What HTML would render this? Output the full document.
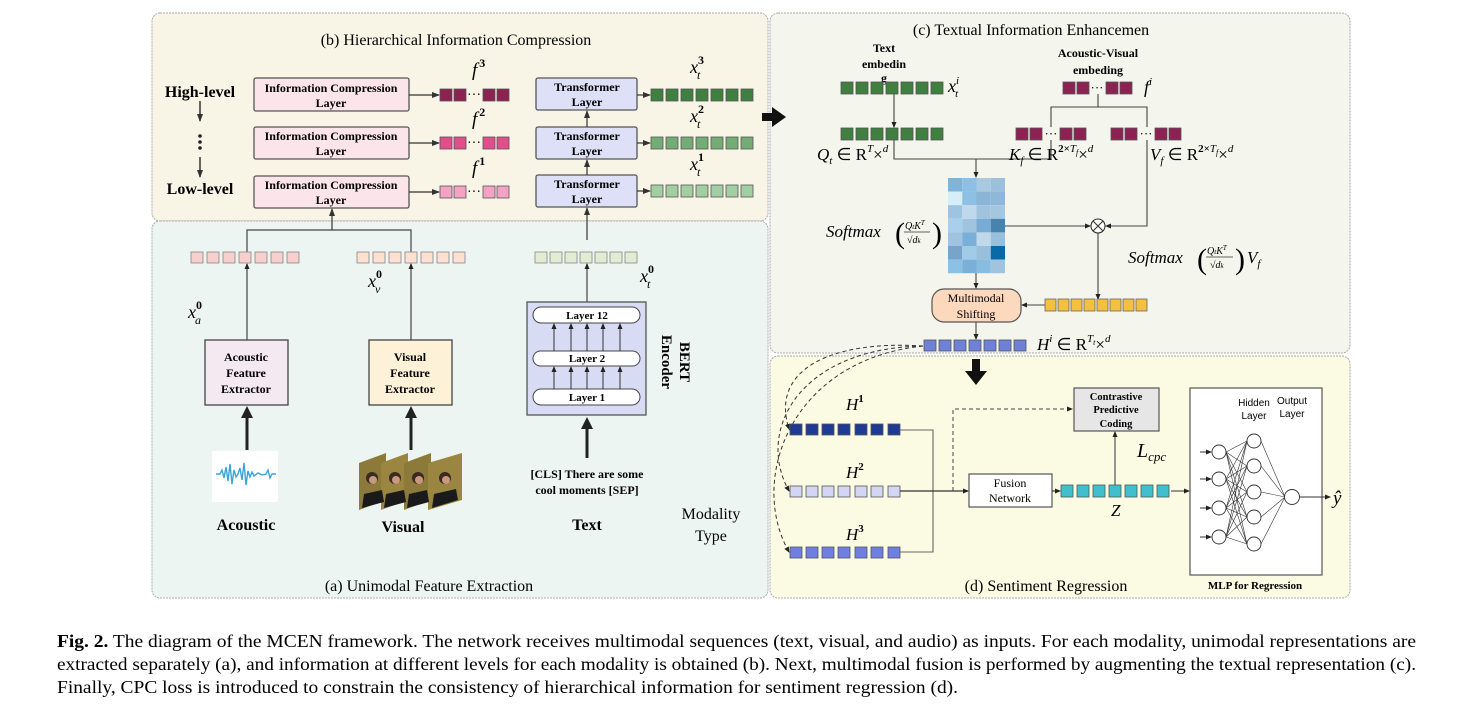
<!DOCTYPE html>
<html><head><meta charset="utf-8"><style>
html,body{margin:0;padding:0;background:#fff;}
svg{display:block;font-family:"Liberation Serif",serif;}
.b{font-weight:bold}
.m{font-style:italic}
</style></head><body>
<svg width="1474" height="716" viewBox="0 0 1474 716" xmlns="http://www.w3.org/2000/svg">
<defs>
<marker id="ar" markerWidth="8" markerHeight="8" refX="7" refY="4" orient="auto" markerUnits="userSpaceOnUse"><path d="M0,1 L8,4 L0,7 z" fill="#333"/></marker>
<marker id="ar2" markerWidth="6" markerHeight="6" refX="5" refY="3" orient="auto" markerUnits="userSpaceOnUse"><path d="M0,0.5 L6,3 L0,5.5 z" fill="#222"/></marker>
</defs>

<!-- panels -->
<rect x="152" y="13" width="616" height="208" rx="8" fill="#f8f4e6" stroke="#aaa" stroke-dasharray="2,1"/>
<rect x="152" y="221" width="616" height="377" rx="8" fill="#edf5f2" stroke="#aaa" stroke-dasharray="2,1"/>
<rect x="770" y="13" width="580" height="340" rx="8" fill="#f4f5ec" stroke="#aaa" stroke-dasharray="2,1"/>
<rect x="770" y="356" width="580" height="242" rx="8" fill="#fbfae2" stroke="#aaa" stroke-dasharray="2,1"/>

<!-- (b) -->
<text x="456" y="45" font-size="16" text-anchor="middle">(b) Hierarchical Information Compression</text>
<text x="200" y="97" font-size="16" class="b" text-anchor="middle">High-level</text>
<line x1="200" y1="101" x2="200" y2="121" stroke="#333" stroke-width="1.5" marker-end="url(#ar)"/>
<circle cx="200" cy="136" r="1.8" fill="#222"/><circle cx="200" cy="142" r="1.8" fill="#222"/><circle cx="200" cy="148" r="1.8" fill="#222"/>
<line x1="200" y1="157" x2="200" y2="177" stroke="#333" stroke-width="1.5" marker-end="url(#ar)"/>
<text x="200" y="194" font-size="16" class="b" text-anchor="middle">Low-level</text>

<g stroke="#555" stroke-width="1.3" fill="#fbe4ea">
<rect x="254" y="78" width="155" height="33" rx="2"/>
<rect x="254" y="127" width="155" height="32" rx="2"/>
<rect x="254" y="176" width="155" height="32" rx="2"/>
</g>
<g font-size="12" class="b" text-anchor="middle">
<text x="331" y="92">Information Compression</text><text x="331" y="107">Layer</text>
<text x="331" y="140">Information Compression</text><text x="331" y="155">Layer</text>
<text x="331" y="189">Information Compression</text><text x="331" y="204">Layer</text>
</g>
<g stroke="#333" stroke-width="1.2" marker-end="url(#ar)">
<line x1="409" y1="95" x2="439" y2="95"/><line x1="409" y1="143" x2="439" y2="143"/><line x1="409" y1="192" x2="439" y2="192"/>
</g>
<g stroke="#555" stroke-width="0.8">
<g fill="#8b2252"><rect x="440" y="89" width="12" height="12"/><rect x="454" y="89" width="12" height="12"/><rect x="483" y="89" width="12" height="12"/><rect x="497" y="89" width="12" height="12"/></g>
<g fill="#e24d8c"><rect x="440" y="137" width="12" height="12"/><rect x="454" y="137" width="12" height="12"/><rect x="483" y="137" width="12" height="12"/><rect x="497" y="137" width="12" height="12"/></g>
<g fill="#f4a3c4"><rect x="440" y="186" width="12" height="12"/><rect x="454" y="186" width="12" height="12"/><rect x="483" y="186" width="12" height="12"/><rect x="497" y="186" width="12" height="12"/></g>
</g>
<g font-size="14" text-anchor="middle"><text x="474" y="99">···</text><text x="474" y="147">···</text><text x="474" y="196">···</text></g>
<g font-size="19" class="m"><text x="472" y="76">f<tspan font-size="12" dx="2" dy="-9" font-style="normal" font-weight="bold">3</tspan></text>
<text x="472" y="125">f<tspan font-size="12" dx="2" dy="-9" font-style="normal" font-weight="bold">2</tspan></text>
<text x="472" y="174">f<tspan font-size="12" dx="2" dy="-9" font-style="normal" font-weight="bold">1</tspan></text></g>

<g stroke="#555" stroke-width="1.3" fill="#dde0f6">
<rect x="536" y="78" width="101" height="32" rx="2"/>
<rect x="536" y="127" width="101" height="32" rx="2"/>
<rect x="536" y="175" width="101" height="32" rx="2"/>
</g>
<g font-size="12" class="b" text-anchor="middle">
<text x="587" y="91">Transformer</text><text x="587" y="106">Layer</text>
<text x="587" y="140">Transformer</text><text x="587" y="155">Layer</text>
<text x="587" y="188">Transformer</text><text x="587" y="203">Layer</text>
</g>
<g stroke="#333" stroke-width="1.2" marker-end="url(#ar)">
<line x1="587" y1="127" x2="587" y2="111"/><line x1="587" y1="175" x2="587" y2="160"/><line x1="587" y1="240" x2="587" y2="208"/>
<line x1="332" y1="230" x2="332" y2="209"/>
<line x1="637" y1="95" x2="650" y2="95"/><line x1="637" y1="143" x2="650" y2="143"/><line x1="637" y1="191" x2="650" y2="191"/>
</g>
<g stroke="#555" stroke-width="0.8">
<g fill="#3f7f3f"><rect x="651" y="89" width="12" height="12"/><rect x="666" y="89" width="12" height="12"/><rect x="681" y="89" width="12" height="12"/><rect x="696" y="89" width="12" height="12"/><rect x="711" y="89" width="12" height="12"/><rect x="726" y="89" width="12" height="12"/><rect x="741" y="89" width="12" height="12"/></g>
<g fill="#74ad74"><rect x="651" y="137" width="12" height="12"/><rect x="666" y="137" width="12" height="12"/><rect x="681" y="137" width="12" height="12"/><rect x="696" y="137" width="12" height="12"/><rect x="711" y="137" width="12" height="12"/><rect x="726" y="137" width="12" height="12"/><rect x="741" y="137" width="12" height="12"/></g>
<g fill="#a2cfa2"><rect x="651" y="185" width="12" height="12"/><rect x="666" y="185" width="12" height="12"/><rect x="681" y="185" width="12" height="12"/><rect x="696" y="185" width="12" height="12"/><rect x="711" y="185" width="12" height="12"/><rect x="726" y="185" width="12" height="12"/><rect x="741" y="185" width="12" height="12"/></g>
</g>
<g font-size="18" class="m"><text x="690" y="73">x<tspan font-size="12" dy="-9" font-style="normal" font-weight="bold">3</tspan><tspan font-size="12" dx="-7" dy="15">t</tspan></text>
<text x="690" y="122">x<tspan font-size="12" dy="-9" font-style="normal" font-weight="bold">2</tspan><tspan font-size="12" dx="-7" dy="15">t</tspan></text>
<text x="690" y="170">x<tspan font-size="12" dy="-9" font-style="normal" font-weight="bold">1</tspan><tspan font-size="12" dx="-7" dy="15">t</tspan></text></g>
<!-- big right arrow -->
<rect x="762" y="113" width="12" height="8" fill="#111"/><path d="M772,107 L786,117 L772,127 z" fill="#111"/>

<!-- (a) -->
<polyline points="247,252 247,230 411,230 411,252" fill="none" stroke="#444" stroke-width="1.2"/>
<g stroke="#888" stroke-width="0.8">
<g fill="#f8cfcf"><rect x="191" y="252" width="12" height="11"/><rect x="207" y="252" width="12" height="11"/><rect x="223" y="252" width="12" height="11"/><rect x="239" y="252" width="12" height="11"/><rect x="255" y="252" width="12" height="11"/><rect x="271" y="252" width="12" height="11"/><rect x="287" y="252" width="12" height="11"/></g>
<g fill="#fde0cf"><rect x="357" y="252" width="12" height="11"/><rect x="373" y="252" width="12" height="11"/><rect x="389" y="252" width="12" height="11"/><rect x="405" y="252" width="12" height="11"/><rect x="421" y="252" width="12" height="11"/><rect x="437" y="252" width="12" height="11"/><rect x="453" y="252" width="12" height="11"/></g>
<g fill="#e3ecd2"><rect x="535" y="252" width="12" height="11"/><rect x="550" y="252" width="12" height="11"/><rect x="565" y="252" width="12" height="11"/><rect x="580" y="252" width="12" height="11"/><rect x="595" y="252" width="12" height="11"/><rect x="610" y="252" width="12" height="11"/><rect x="625" y="252" width="12" height="11"/></g>
</g>
<g stroke="#444" stroke-width="1.2" marker-end="url(#ar2)">
<line x1="247" y1="340" x2="247" y2="264"/><line x1="411" y1="340" x2="411" y2="264"/><line x1="587" y1="302" x2="587" y2="264"/>
</g>
<g font-size="18" class="m"><text x="188" y="318">x<tspan font-size="12" dy="-9" font-style="normal" font-weight="bold">0</tspan><tspan font-size="12" dx="-7" dy="15">a</tspan></text>
<text x="368" y="287">x<tspan font-size="12" dy="-9" font-style="normal" font-weight="bold">0</tspan><tspan font-size="12" dx="-7" dy="15">v</tspan></text>
<text x="640" y="282">x<tspan font-size="12" dy="-9" font-style="normal" font-weight="bold">0</tspan><tspan font-size="12" dx="-7" dy="15">t</tspan></text></g>

<rect x="205" y="340" width="83" height="65" fill="#f4e8f1" stroke="#444" stroke-width="1.3"/>
<rect x="369" y="340" width="83" height="65" fill="#fdf1d8" stroke="#444" stroke-width="1.3"/>
<g font-size="12" class="b" text-anchor="middle">
<text x="246" y="361">Acoustic</text><text x="246" y="377">Feature</text><text x="246" y="393">Extractor</text>
<text x="410" y="361">Visual</text><text x="410" y="377">Feature</text><text x="410" y="393">Extractor</text>
</g>
<g stroke="#222" stroke-width="3">
<line x1="247" y1="450" x2="247" y2="416"/><line x1="411" y1="450" x2="411" y2="416"/><line x1="587" y1="458" x2="587" y2="428"/>
</g>
<g fill="#222"><path d="M241,418 L247,406 L253,418 z"/><path d="M405,418 L411,406 L417,418 z"/><path d="M581,429 L587,417 L593,429 z"/></g>

<rect x="527" y="302" width="119" height="113" fill="#d7dbf4" stroke="#555" stroke-width="1.3"/>
<g fill="#fff" stroke="#444" stroke-width="1"><rect x="533" y="307" width="107" height="16" rx="8"/><rect x="533" y="351" width="107" height="15" rx="7.5"/><rect x="533" y="389" width="107" height="16" rx="8"/></g>
<g font-size="11" class="b" text-anchor="middle"><text x="587" y="319">Layer 12</text><text x="587" y="362">Layer 2</text><text x="587" y="401">Layer 1</text></g>
<g stroke="#333" stroke-width="1" marker-end="url(#ar2)">
<line x1="554" y1="351" x2="554" y2="324"/><line x1="571" y1="351" x2="571" y2="324"/><line x1="587" y1="351" x2="587" y2="324"/><line x1="603" y1="351" x2="603" y2="324"/><line x1="620" y1="351" x2="620" y2="324"/>
<line x1="554" y1="389" x2="554" y2="367"/><line x1="571" y1="389" x2="571" y2="367"/><line x1="587" y1="389" x2="587" y2="367"/><line x1="603" y1="389" x2="603" y2="367"/><line x1="620" y1="389" x2="620" y2="367"/>
</g>
<g font-size="15" class="b" text-anchor="middle"><text transform="translate(680,362) rotate(90)">BERT</text><text transform="translate(662,362) rotate(90)">Encoder</text></g>

<!-- waveform -->
<rect x="212" y="451" width="66" height="51" fill="#fff"/>
<path d="M216,474 L220,474 L222,470 L224,478 L226,467 L228,481 L230,464 L232,484 L234,470 L236,477 L238,474 L240,468 L242,480 L244,463 L246,485 L248,471 L250,477 L252,472 L254,476 L258,473 L262,475 L266,474 L268,470 L270,478 L272,474 L276,474" fill="none" stroke="#3aa6d8" stroke-width="1.4"/>
<!-- photos -->
<g>
<polygon points="359,463 386,453 386,500 359,510" fill="#8c7a3a"/>
<polygon points="381,463 408,453 408,500 381,510" fill="#9a8640"/>
<polygon points="404,463 431,453 431,500 404,510" fill="#8c7a3a"/>
<polygon points="428,463 462,453 462,500 428,510" fill="#9a8640"/>
<g fill="#3a2a20"><circle cx="372" cy="478" r="6"/><circle cx="395" cy="478" r="6"/><circle cx="418" cy="478" r="6"/><circle cx="445" cy="478" r="6"/></g>
<g fill="#c89880"><circle cx="373" cy="480" r="4"/><circle cx="396" cy="480" r="4"/><circle cx="419" cy="480" r="4"/><circle cx="446" cy="480" r="4"/></g>
<g fill="#1a1a1a"><path d="M362,508 L364,494 L382,490 L384,502 z"/><path d="M384,508 L386,494 L404,490 L406,502 z"/><path d="M407,508 L409,494 L427,490 L429,502 z"/><path d="M432,508 L434,494 L456,489 L458,500 z"/></g>
</g>
<g font-size="12" class="b" text-anchor="middle"><text x="587" y="478">[CLS] There are some</text><text x="587" y="494">cool  moments [SEP]</text></g>
<g font-size="16" class="b" text-anchor="middle"><text x="246" y="530">Acoustic</text><text x="403" y="532">Visual</text><text x="587" y="530">Text</text></g>
<g font-size="16" text-anchor="middle"><text x="711" y="519">Modality</text><text x="711" y="541">Type</text></g>
<text x="429" y="591" font-size="16" text-anchor="middle">(a) Unimodal Feature Extraction</text>

<!-- (c) -->
<text x="1031" y="35" font-size="16" text-anchor="middle">(c) Textual Information Enhancemen</text>
<g font-size="12" class="b" text-anchor="middle"><text x="884" y="52">Text</text><text x="884" y="68">embedin</text><text x="884" y="82">g</text>
<text x="1098" y="57">Acoustic-Visual</text><text x="1098" y="74">embeding</text></g>
<g stroke="#555" stroke-width="0.8" fill="#3f7f3f">
<rect x="841" y="82" width="12" height="12"/><rect x="856" y="82" width="12" height="12"/><rect x="871" y="82" width="12" height="12"/><rect x="886" y="82" width="12" height="12"/><rect x="901" y="82" width="12" height="12"/><rect x="916" y="82" width="12" height="12"/><rect x="931" y="82" width="12" height="12"/>
<rect x="841" y="128" width="12" height="12"/><rect x="856" y="128" width="12" height="12"/><rect x="871" y="128" width="12" height="12"/><rect x="886" y="128" width="12" height="12"/><rect x="901" y="128" width="12" height="12"/><rect x="916" y="128" width="12" height="12"/><rect x="931" y="128" width="12" height="12"/>
</g>
<g stroke="#555" stroke-width="0.8" fill="#8b2252">
<rect x="1063" y="82" width="12" height="12"/><rect x="1077" y="82" width="12" height="12"/><rect x="1106" y="82" width="12" height="12"/><rect x="1120" y="82" width="12" height="12"/>
<rect x="1016" y="128" width="12" height="12"/><rect x="1030" y="128" width="12" height="12"/><rect x="1060" y="128" width="12" height="12"/><rect x="1074" y="128" width="12" height="12"/>
<rect x="1111" y="128" width="12" height="12"/><rect x="1125" y="128" width="12" height="12"/><rect x="1155" y="128" width="12" height="12"/><rect x="1169" y="128" width="12" height="12"/>
</g>
<g font-size="13" text-anchor="middle"><text x="1097" y="92">···</text><text x="1051" y="138">···</text><text x="1146" y="138">···</text></g>
<g font-size="18" class="m"><text x="948" y="92">x<tspan font-size="11" dy="-8">i</tspan><tspan font-size="11" dx="-4" dy="13">t</tspan></text>
<text x="1144" y="93">f<tspan font-size="11" dy="-8">i</tspan></text></g>
<g stroke="#444" stroke-width="1.1" fill="none">
<line x1="894" y1="94" x2="894" y2="127" marker-end="url(#ar2)"/>
<polyline points="1098,94 1098,107"/><polyline points="1051,127 1051,107 1147,107 1147,127"/>
<polyline points="894,140 894,159 1051,159 1051,140"/>
<line x1="976" y1="159" x2="976" y2="177" marker-end="url(#ar2)"/>
<line x1="1005" y1="226" x2="1090" y2="226" marker-end="url(#ar2)"/>
<polyline points="1147,140 1147,226 1106,226" marker-end="url(#ar2)"/>
<line x1="1098" y1="233" x2="1098" y2="299" marker-end="url(#ar2)"/>
<line x1="976" y1="273" x2="976" y2="288" marker-end="url(#ar2)"/>
<line x1="1045" y1="305" x2="1022" y2="305" marker-end="url(#ar2)"/>
<line x1="976" y1="322" x2="976" y2="339" marker-end="url(#ar2)"/>
</g>
<g font-size="17" class="m">
<text x="817" y="160">Q<tspan font-size="11" dy="4">t</tspan><tspan dy="-4" font-style="normal"> ∈ R</tspan><tspan font-size="11" dy="-8">T</tspan><tspan dy="8" font-style="normal">×</tspan><tspan font-size="11" dy="-8">d</tspan></text>
<text x="1009" y="160">K<tspan font-size="11" dy="4">f</tspan><tspan dy="-4" font-style="normal"> ∈ R</tspan><tspan font-size="11" dy="-8" font-style="normal" font-weight="bold">2×</tspan><tspan font-size="11">T</tspan><tspan font-size="8" dy="3">f</tspan><tspan dy="5" font-style="normal">×</tspan><tspan font-size="11" dy="-8">d</tspan></text>
<text x="1150" y="160">V<tspan font-size="11" dy="4">f</tspan><tspan dy="-4" font-style="normal"> ∈ R</tspan><tspan font-size="11" dy="-8" font-style="normal" font-weight="bold">2×</tspan><tspan font-size="11">T</tspan><tspan font-size="8" dy="3">f</tspan><tspan dy="5" font-style="normal">×</tspan><tspan font-size="11" dy="-8">d</tspan></text>
</g>
<!-- heatmap -->
<g>
<rect x="948" y="178" width="14.25" height="13.6" fill="#7fb3d8"/><rect x="962.25" y="178" width="14.25" height="13.6" fill="#8cc0e4"/><rect x="976.5" y="178" width="14.25" height="13.6" fill="#a9c9e0"/><rect x="990.75" y="178" width="14.25" height="13.6" fill="#9cc0dc"/>
<rect x="948" y="191.6" width="14.25" height="13.6" fill="#d6eef8"/><rect x="962.25" y="191.6" width="14.25" height="13.6" fill="#8dc0e2"/><rect x="976.5" y="191.6" width="14.25" height="13.6" fill="#8ab5d6"/><rect x="990.75" y="191.6" width="14.25" height="13.6" fill="#8fb8d8"/>
<rect x="948" y="205.2" width="14.25" height="13.6" fill="#9dc4e0"/><rect x="962.25" y="205.2" width="14.25" height="13.6" fill="#c0d8ec"/><rect x="976.5" y="205.2" width="14.25" height="13.6" fill="#a0c4e0"/><rect x="990.75" y="205.2" width="14.25" height="13.6" fill="#a4c6e0"/>
<rect x="948" y="218.8" width="14.25" height="13.6" fill="#a8d0ec"/><rect x="962.25" y="218.8" width="14.25" height="13.6" fill="#a0c4e0"/><rect x="976.5" y="218.8" width="14.25" height="13.6" fill="#78acd4"/><rect x="990.75" y="218.8" width="14.25" height="13.6" fill="#4a82ae"/>
<rect x="948" y="232.4" width="14.25" height="13.6" fill="#a0c4e0"/><rect x="962.25" y="232.4" width="14.25" height="13.6" fill="#7ab0d8"/><rect x="976.5" y="232.4" width="14.25" height="13.6" fill="#c0d8ec"/><rect x="990.75" y="232.4" width="14.25" height="13.6" fill="#98c0dc"/>
<rect x="948" y="246" width="14.25" height="13.6" fill="#78a4cc"/><rect x="962.25" y="246" width="14.25" height="13.6" fill="#a0cce8"/><rect x="976.5" y="246" width="14.25" height="13.6" fill="#98c0dc"/><rect x="990.75" y="246" width="14.25" height="13.6" fill="#0a6aa8"/>
<rect x="948" y="259.6" width="14.25" height="13.6" fill="#8cc0e4"/><rect x="962.25" y="259.6" width="14.25" height="13.6" fill="#7ab0d8"/><rect x="976.5" y="259.6" width="14.25" height="13.6" fill="#88bce0"/><rect x="990.75" y="259.6" width="14.25" height="13.6" fill="#a0c4e0"/>
</g>
<g font-size="17" class="m">
<text x="826" y="237">Softmax</text>
<text x="895" y="243" font-size="30" font-style="normal" font-weight="normal">(</text>
<text x="905" y="229" font-size="10">Q<tspan font-size="7">t</tspan>K<tspan font-size="7" dy="-4">T</tspan></text>
<line x1="904" y1="232" x2="930" y2="232" stroke="#333" stroke-width="0.8"/>
<text x="907" y="243" font-size="10"><tspan font-style="normal">√</tspan>d<tspan font-size="7">k</tspan></text>
<text x="932" y="243" font-size="30" font-style="normal" font-weight="normal">)</text>
<text x="1128" y="263">Softmax</text>
<text x="1197" y="269" font-size="30" font-style="normal">(</text>
<text x="1207" y="254" font-size="10">Q<tspan font-size="7">t</tspan>K<tspan font-size="7" dy="-4">T</tspan></text>
<line x1="1206" y1="257" x2="1233" y2="257" stroke="#333" stroke-width="0.8"/>
<text x="1210" y="268" font-size="10"><tspan font-style="normal">√</tspan>d<tspan font-size="7">k</tspan></text>
<text x="1235" y="269" font-size="30" font-style="normal">)</text>
<text x="1247" y="263">V<tspan font-size="11" dy="4">f</tspan></text>
</g>
<circle cx="1098" cy="226" r="7" fill="#fff" stroke="#333" stroke-width="1.1"/>
<path d="M1093,221 L1103,231 M1103,221 L1093,231" stroke="#333" stroke-width="1.1"/>
<g stroke="#666" stroke-width="0.8" fill="#f5bf3f">
<rect x="1045" y="299" width="11" height="12"/><rect x="1058" y="299" width="11" height="12"/><rect x="1071" y="299" width="11" height="12"/><rect x="1084" y="299" width="11" height="12"/><rect x="1097" y="299" width="11" height="12"/><rect x="1110" y="299" width="11" height="12"/><rect x="1123" y="299" width="11" height="12"/><rect x="1136" y="299" width="11" height="12"/>
</g>
<rect x="932" y="289" width="89" height="33" rx="12" fill="#fcd8bd" stroke="#555" stroke-width="1.2"/>
<g font-size="12" text-anchor="middle"><text x="976" y="302">Multimodal</text><text x="976" y="318">Shifting</text></g>
<g stroke="#555" stroke-width="0.8" fill="#6e80d8">
<rect x="924" y="340" width="12" height="11"/><rect x="939" y="340" width="12" height="11"/><rect x="954" y="340" width="12" height="11"/><rect x="969" y="340" width="12" height="11"/><rect x="984" y="340" width="12" height="11"/><rect x="999" y="340" width="12" height="11"/><rect x="1014" y="340" width="12" height="11"/>
</g>
<text x="1037" y="350" font-size="17" class="m">H<tspan font-size="11" dy="-8">i</tspan><tspan dy="8" font-style="normal"> ∈ R</tspan><tspan font-size="11" dy="-8">T</tspan><tspan font-size="8" dy="3">t</tspan><tspan dy="5" font-style="normal">×</tspan><tspan font-size="11" dy="-8">d</tspan></text>

<!-- big down arrow -->
<rect x="972" y="359" width="8" height="14" fill="#111"/><path d="M965,371 L976,385 L987,371 z" fill="#111"/>

<!-- (d) -->
<g fill="none" stroke="#333" stroke-width="1" stroke-dasharray="4,3">
<path d="M923,346 C 830,340 770,370 789,429" marker-end="url(#ar2)"/>
<path d="M923,346 C 800,348 755,430 789,491" marker-end="url(#ar2)"/>
<path d="M923,346 C 790,360 748,480 789,552" marker-end="url(#ar2)"/>
</g>
<g stroke="#555" stroke-width="0.8">
<g fill="#1f3a93"><rect x="790" y="424" width="12" height="11"/><rect x="806" y="424" width="12" height="11"/><rect x="822" y="424" width="12" height="11"/><rect x="838" y="424" width="12" height="11"/><rect x="855" y="424" width="12" height="11"/><rect x="871" y="424" width="12" height="11"/><rect x="888" y="424" width="12" height="11"/></g>
<g fill="#d3d5f4"><rect x="790" y="486" width="12" height="11"/><rect x="806" y="486" width="12" height="11"/><rect x="822" y="486" width="12" height="11"/><rect x="838" y="486" width="12" height="11"/><rect x="855" y="486" width="12" height="11"/><rect x="871" y="486" width="12" height="11"/><rect x="888" y="486" width="12" height="11"/></g>
<g fill="#6e7ee2"><rect x="790" y="547" width="12" height="11"/><rect x="806" y="547" width="12" height="11"/><rect x="822" y="547" width="12" height="11"/><rect x="838" y="547" width="12" height="11"/><rect x="855" y="547" width="12" height="11"/><rect x="871" y="547" width="12" height="11"/><rect x="888" y="547" width="12" height="11"/></g>
</g>
<g font-size="17" class="m"><text x="846" y="410">H<tspan font-size="11" dy="-8" font-style="normal" font-weight="bold">1</tspan></text>
<text x="846" y="478">H<tspan font-size="11" dy="-8" font-style="normal" font-weight="bold">2</tspan></text>
<text x="846" y="540">H<tspan font-size="11" dy="-8" font-style="normal" font-weight="bold">3</tspan></text></g>
<g fill="none" stroke="#666" stroke-width="1.1">
<polyline points="900,430 933,430 933,552 900,552"/>
</g>
<line x1="900" y1="491" x2="968" y2="491" stroke="#333" stroke-width="1.2" marker-end="url(#ar2)"/>
<polyline points="953,491 953,409 1072,409" fill="none" stroke="#444" stroke-width="1" stroke-dasharray="4,3" marker-end="url(#ar2)"/>
<rect x="969" y="474" width="83" height="33" fill="#fff" stroke="#555" stroke-width="1.2"/>
<g font-size="12" text-anchor="middle"><text x="1010" y="487">Fusion</text><text x="1010" y="502">Network</text></g>
<rect x="1074" y="388" width="85" height="43" fill="#e6e6e6" stroke="#555" stroke-width="1.2"/>
<g font-size="10.5" class="b" text-anchor="middle"><text x="1116" y="400">Contrastive</text><text x="1116" y="413">Predictive</text><text x="1116" y="427">Coding</text></g>
<line x1="1052" y1="491" x2="1060" y2="491" stroke="#333" stroke-width="1.1" marker-end="url(#ar2)"/>
<g stroke="#555" stroke-width="0.8" fill="#3fc0cc">
<rect x="1061" y="485" width="12" height="12"/><rect x="1077" y="485" width="12" height="12"/><rect x="1093" y="485" width="12" height="12"/><rect x="1109" y="485" width="12" height="12"/><rect x="1125" y="485" width="12" height="12"/><rect x="1141" y="485" width="12" height="12"/><rect x="1157" y="485" width="12" height="12"/>
</g>
<line x1="1115" y1="485" x2="1115" y2="432" stroke="#444" stroke-width="1.1" marker-end="url(#ar2)"/>
<line x1="1171" y1="491" x2="1189" y2="491" stroke="#333" stroke-width="1.1" marker-end="url(#ar2)"/>
<text x="1137" y="457" font-size="20" class="m">L<tspan font-size="13" dy="4">cpc</tspan></text>
<text x="1111" y="516" font-size="17" class="m">Z</text>

<rect x="1190" y="388" width="132" height="187" fill="#fff" stroke="#555" stroke-width="1.2"/>
<g font-family="Liberation Sans, sans-serif" font-size="10" text-anchor="middle"><text x="1254" y="406">Hidden</text><text x="1254" y="419">Layer</text><text x="1292" y="404">Output</text><text x="1292" y="417">Layer</text></g>
<g stroke="#333" stroke-width="0.6">
<line x1="1226" y1="452" x2="1247" y2="441"/><line x1="1226" y1="452" x2="1247" y2="466"/><line x1="1226" y1="452" x2="1247" y2="492"/><line x1="1226" y1="452" x2="1247" y2="517"/><line x1="1226" y1="452" x2="1247" y2="544"/>
<line x1="1226" y1="479" x2="1247" y2="441"/><line x1="1226" y1="479" x2="1247" y2="466"/><line x1="1226" y1="479" x2="1247" y2="492"/><line x1="1226" y1="479" x2="1247" y2="517"/><line x1="1226" y1="479" x2="1247" y2="544"/>
<line x1="1226" y1="508" x2="1247" y2="441"/><line x1="1226" y1="508" x2="1247" y2="466"/><line x1="1226" y1="508" x2="1247" y2="492"/><line x1="1226" y1="508" x2="1247" y2="517"/><line x1="1226" y1="508" x2="1247" y2="544"/>
<line x1="1226" y1="537" x2="1247" y2="441"/><line x1="1226" y1="537" x2="1247" y2="466"/><line x1="1226" y1="537" x2="1247" y2="492"/><line x1="1226" y1="537" x2="1247" y2="517"/><line x1="1226" y1="537" x2="1247" y2="544"/>
<line x1="1261" y1="441" x2="1285" y2="497"/><line x1="1261" y1="466" x2="1285" y2="497"/><line x1="1261" y1="492" x2="1285" y2="497"/><line x1="1261" y1="517" x2="1285" y2="497"/><line x1="1261" y1="544" x2="1285" y2="497"/>
</g>
<g stroke="#333" stroke-width="1" marker-end="url(#ar2)">
<line x1="1200" y1="452" x2="1211" y2="452"/><line x1="1200" y1="479" x2="1211" y2="479"/><line x1="1200" y1="508" x2="1211" y2="508"/><line x1="1200" y1="537" x2="1211" y2="537"/>
<line x1="1299" y1="497" x2="1330" y2="497"/>
</g>
<g fill="#fff" stroke="#333" stroke-width="0.9">
<circle cx="1219" cy="452" r="7"/><circle cx="1219" cy="479" r="7"/><circle cx="1219" cy="508" r="7"/><circle cx="1219" cy="537" r="7"/>
<circle cx="1254" cy="441" r="7"/><circle cx="1254" cy="466" r="7"/><circle cx="1254" cy="492" r="7"/><circle cx="1254" cy="517" r="7"/><circle cx="1254" cy="544" r="7"/>
<circle cx="1292" cy="497" r="7.5"/>
</g>
<text x="1333" y="504" font-size="19" class="m">ŷ</text>
<text x="1255" y="589" font-size="11" class="b" text-anchor="middle">MLP for Regression</text>
<text x="1046" y="591" font-size="16" text-anchor="middle">(d) Sentiment Regression</text>

<!-- caption -->
<g font-size="17.5">
<text x="57" y="647" textLength="1359" lengthAdjust="spacingAndGlyphs"><tspan font-weight="bold">Fig. 2.</tspan> The diagram of the MCEN framework. The network receives multimodal sequences (text, visual, and audio) as inputs. For each modality, unimodal representations are</text>
<text x="57" y="670" textLength="1359" lengthAdjust="spacingAndGlyphs">extracted separately (a), and information at different levels for each modality is obtained (b). Next, multimodal fusion is performed by augmenting the textual representation (c).</text>
<text x="57" y="693" textLength="901" lengthAdjust="spacingAndGlyphs">Finally, CPC loss is introduced to constrain the consistency of hierarchical information for sentiment regression (d).</text>
</g>
</svg>
</body></html>
